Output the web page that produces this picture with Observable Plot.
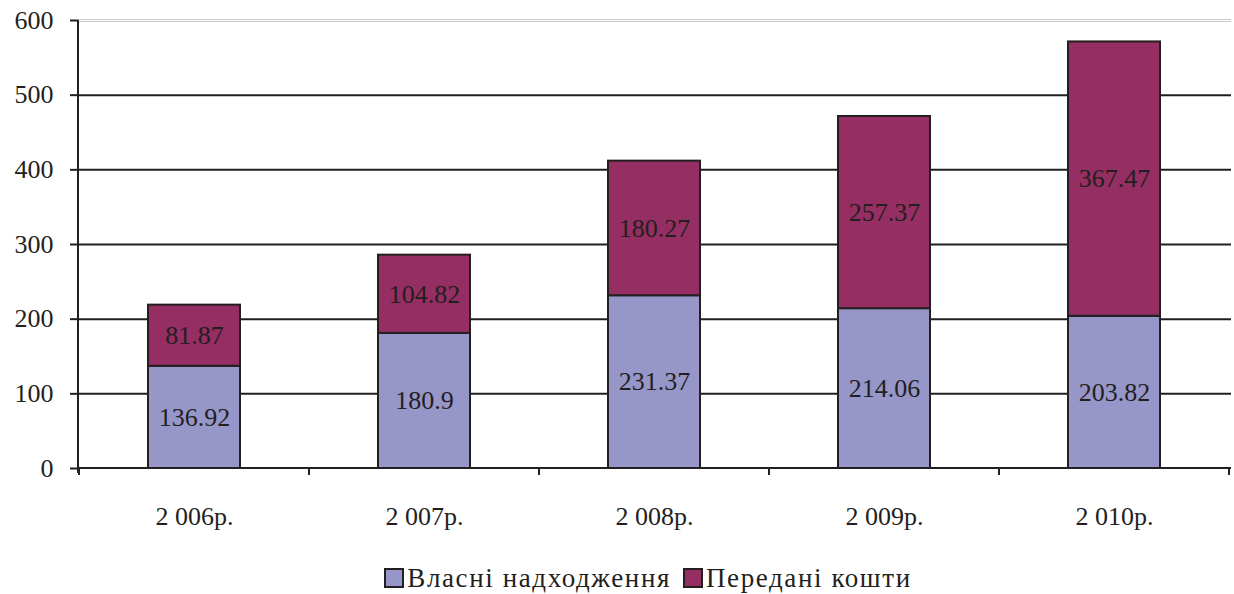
<!DOCTYPE html>
<html>
<head>
<meta charset="utf-8">
<script src="https://cdn.jsdelivr.net/npm/d3@7"></script>
<script src="https://cdn.jsdelivr.net/npm/@observablehq/plot@0.6"></script>
<style>
  body { margin: 0; background: #fff; font-family: "Liberation Serif", Tinos, "DejaVu Serif", serif; }
  #chart svg { display: block; }
  .legend { display: flex; justify-content: center; align-items: center; gap: 12px; font-family: "Liberation Serif", Tinos, "DejaVu Serif", serif; font-size: 27px; letter-spacing: 1.6px; color: #231f20; height: 56px; padding-left: 62px; }
  .legend span.item { display: inline-flex; align-items: center; }
  .legend span.sw { display: inline-block; width: 16px; height: 16px; border: 2px solid #231f20; margin-right: 3px; }
</style>
</head>
<body>
<div id="chart"></div>
<div class="legend" id="legend"></div>
<script>
const years = ["2 006р.", "2 007р.", "2 008р.", "2 009р.", "2 010р."];
const own = [136.92, 180.9, 231.37, 214.06, 203.82];
const transferred = [81.87, 104.82, 180.27, 257.37, 367.47];
const seriesNames = ["Власні надходження", "Передані кошти"];
const seriesColors = ["#9696c8", "#952e62"];
const yTicks = [0, 100, 200, 300, 400, 500, 600];
const gridDark = [100, 200, 300, 400, 500];
const gridTop = [600];

const rows = [];
years.forEach((y, i) => {
  rows.push({year: y, series: seriesNames[0], value: own[i]});
  rows.push({year: y, series: seriesNames[1], value: transferred[i]});
});

const ink = "#231f20";
const serif = "'Liberation Serif', Tinos, 'DejaVu Serif', serif";

// custom mark: y axis line and category boundary ticks
function axisLines(index, scales, values, dimensions) {
  const g = d3.create("svg:g");
  const x = scales.x, y = scales.y;
  const y0 = y(0);
  const left = dimensions.marginLeft;
  const right = dimensions.width - dimensions.marginRight;
  g.append("line").attr("x1", left).attr("x2", left)
    .attr("y1", y(600)).attr("y2", y0 + 5)
    .attr("stroke", ink).attr("stroke-width", 2);
  g.append("line").attr("x1", left).attr("x2", right)
    .attr("y1", y0).attr("y2", y0)
    .attr("stroke", ink).attr("stroke-width", 2);
  const step = x.step();
  const gap = (step - x.bandwidth()) / 2;
  const bounds = [x(years[0]) - gap];
  years.forEach(yv => bounds.push(x(yv) + x.bandwidth() + gap));
  bounds.forEach(b => {
    g.append("line").attr("x1", b).attr("x2", b)
      .attr("y1", y0).attr("y2", y0 + 7)
      .attr("stroke", ink).attr("stroke-width", 2);
  });
  return g.node();
}

const chart = Plot.plot({
  width: 1234,
  height: 550,
  marginLeft: 78,
  marginRight: 3,
  marginTop: 20,
  marginBottom: 82,
  style: {fontFamily: serif, fontSize: "25px", color: ink, background: "#fff"},
  x: {domain: years, paddingInner: 0.6, paddingOuter: 0.3, align: 0.5, label: null},
  y: {domain: [0, 600], label: null},
  color: {domain: seriesNames, range: seriesColors},
  marks: [
    Plot.ruleY(gridDark, {stroke: ink, strokeWidth: 2}),
    Plot.ruleY(gridTop, {stroke: "#c8c8c8", strokeWidth: 1, dy: -1}),
    Plot.ruleY(gridTop, {stroke: "#c8c8c8", strokeWidth: 1, dy: 1}),
    Plot.barY(rows, Plot.stackY({x: "year", y: "value", z: "series", fill: "series", stroke: ink, strokeWidth: 2, order: seriesNames})),
    Plot.text(rows, Plot.stackY({x: "year", y: "value", z: "series", text: d => String(d.value), order: seriesNames, fill: ink, fontSize: 26, fontFamily: serif})),
    Plot.axisY({ticks: yTicks, tickSize: 8, tickPadding: 17, tickFormat: d => String(d), fontSize: 26, fontFamily: serif, stroke: ink, strokeWidth: 2, label: null}),
    Plot.axisX({tickSize: 0, tickPadding: 38, fontSize: 26, fontFamily: serif, label: null}),
    axisLines
  ]
});
document.getElementById("chart").appendChild(chart);

const legend = document.getElementById("legend");
seriesNames.forEach((name, i) => {
  const item = document.createElement("span");
  item.className = "item";
  const sw = document.createElement("span");
  sw.className = "sw";
  sw.style.background = seriesColors[i];
  item.appendChild(sw);
  item.appendChild(document.createTextNode(name));
  legend.appendChild(item);
});
</script>
</body>
</html>
